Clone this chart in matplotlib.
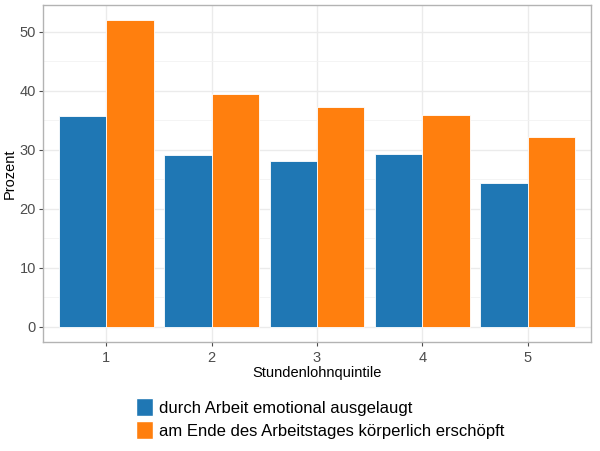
import numpy as np
import matplotlib.pyplot as plt
from matplotlib.patches import Patch
from matplotlib.ticker import MultipleLocator

plt.rcParams['font.family'] = ['Liberation Sans', 'DejaVu Sans']

quintile = ['1', '2', '3', '4', '5']
emotional = [35.7, 29.0, 28.1, 29.2, 24.4]
koerperlich = [51.9, 39.5, 37.3, 35.9, 32.2]
labels = ['durch Arbeit emotional ausgelaugt',
          'am Ende des Arbeitstages körperlich erschöpft']
blue = '#1f77b4'
orange = '#ff7f0e'

fig = plt.figure(figsize=(6.0, 4.51), dpi=100)
ax = fig.add_axes([43 / 600, 1 - 342 / 451, 548 / 600, 337 / 451])

x = np.arange(1, len(quintile) + 1)
w = 0.45
ax.bar(x - w / 2, emotional, w, color=blue, edgecolor='white', linewidth=0.6, zorder=3)
ax.bar(x + w / 2, koerperlich, w, color=orange, edgecolor='white', linewidth=0.6, zorder=3)

ax.set_xlim(0.4, 5.6)
ax.set_ylim(-2.6, 54.5)
ax.set_xticks(x)
ax.set_xticklabels(quintile)
ax.yaxis.set_major_locator(MultipleLocator(10))
ax.yaxis.set_minor_locator(MultipleLocator(5))
ax.set_axisbelow(True)
ax.grid(which='major', color='#ebebeb', linewidth=1.0)
ax.grid(which='minor', axis='y', color='#f2f2f2', linewidth=0.6)
for s in ax.spines.values():
    s.set_color('#b3b3b3')
    s.set_linewidth(1.0)
ax.tick_params(which='major', length=3, color='#4d4d4d', labelcolor='#4d4d4d', labelsize=10.5)
ax.tick_params(axis='y', pad=2)
ax.tick_params(which='minor', length=0)

ax.set_xlabel('Stundenlohnquintile', fontsize=10.5, labelpad=1)
ax.set_ylabel('Prozent', fontsize=10.5, labelpad=2)

handles = [Patch(facecolor=blue, edgecolor='white'), Patch(facecolor=orange, edgecolor='white')]
fig.legend(handles, labels, loc='upper left', bbox_to_anchor=(121 / 600, 1 - 383 / 451),
           frameon=False, fontsize=12, handlelength=1.0, handleheight=1.3,
           handletextpad=0.4, labelspacing=0.3)

fig.savefig('out.png', dpi=100)
